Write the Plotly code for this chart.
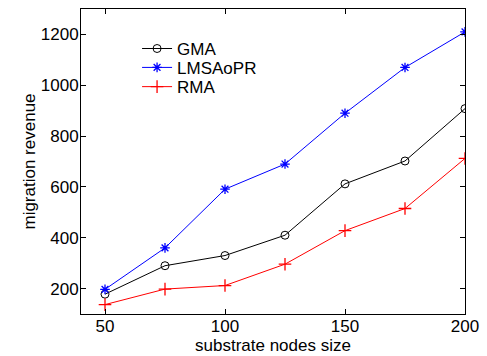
import plotly.graph_objects as go

x_nodes = [50, 75, 100, 125, 150, 175, 200]
gma = [178, 290, 330, 410, 612, 702, 908]
lmsaopr = [197, 360, 591, 690, 890, 1070, 1210]
rma = [137, 198, 212, 296, 428, 515, 712]

FONT = "Arial, Liberation Sans, sans-serif"

fig = go.Figure()
fig.add_trace(go.Scatter(x=x_nodes, y=gma, name="GMA", mode="lines+markers", legend="legend",
                         line=dict(color="black", width=1),
                         marker=dict(symbol="circle-open", size=8, color="black", line=dict(width=1))))
fig.add_trace(go.Scatter(x=x_nodes, y=lmsaopr, name="LMSAoPR", mode="lines+markers", legend="legend2",
                         line=dict(color="blue", width=1),
                         marker=dict(symbol="asterisk-open", size=8, color="blue", line=dict(width=1.3, color="blue"))))
fig.add_trace(go.Scatter(x=x_nodes, y=rma, name="RMA", mode="lines+markers", legend="legend3",
                         line=dict(color="red", width=1),
                         marker=dict(symbol="cross-thin-open", size=9, color="red", line=dict(width=1.3, color="red"))))

axis_common = dict(showgrid=False, zeroline=False, showline=True, linecolor="black", linewidth=1,
                   mirror="ticks", ticks="inside", ticklen=5, tickcolor="black", automargin=False,
                   tickfont=dict(family=FONT, size=17, color="black"))
fig.update_xaxes(range=[40, 200], tickvals=[50, 100, 150, 200], ticklabelstandoff=-3, **axis_common)
fig.update_yaxes(range=[100, 1300], tickvals=[200, 400, 600, 800, 1000, 1200], ticklabelstandoff=-2,
                 title=dict(text="migration revenue", font=dict(family=FONT, size=17, color="black")),
                 **axis_common)

fig.add_annotation(text="substrate nodes size", xref="paper", yref="paper", x=0.5, y=-0.1377,
                   xanchor="center", yanchor="bottom", showarrow=False, borderpad=0,
                   font=dict(family=FONT, size=17, color="black"))

leg = dict(x=0.146, xanchor="left", yanchor="middle", bgcolor="rgba(0,0,0,0)",
           font=dict(family=FONT, size=17, color="black"), itemwidth=30)
fig.update_layout(template="none", width=487, height=356, margin=dict(l=81, r=22, t=9, b=42),
                  plot_bgcolor="white", paper_bgcolor="white",
                  legend=dict(y=0.869, **leg),
                  legend2=dict(y=0.807, **leg),
                  legend3=dict(y=0.744, **leg),
                  showlegend=True)

fig.write_html("out.html", config={"displayModeBar": False},
               post_script="document.body.style.margin='0';document.body.style.padding='0';")
